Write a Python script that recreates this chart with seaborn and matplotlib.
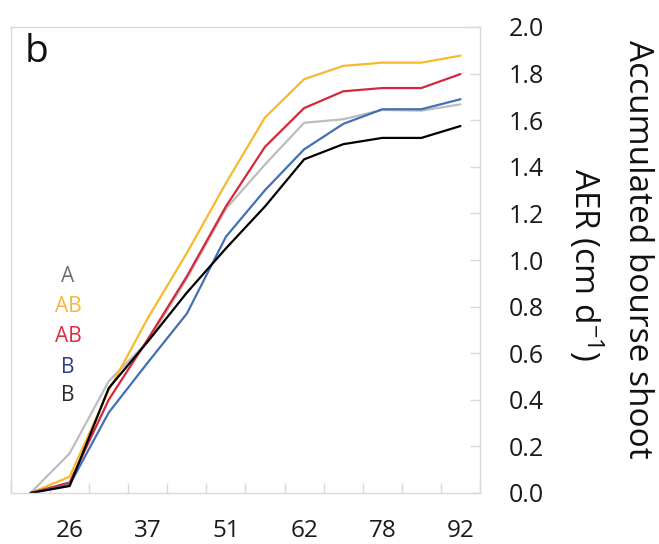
import numpy as np
import pandas as pd
import matplotlib
matplotlib.use("Agg")
import matplotlib.pyplot as plt
import seaborn as sns

# Sampling steps along the season and the day labels shown under the axis
steps = list(range(12))
day_labels = ["", "26", "", "37", "", "51", "", "62", "", "78", "", "92"]

# Accumulated bourse shoot AER (cm d-1) per treatment
t1 = [0.0, 0.17, 0.48, 0.65, 0.92, 1.22, 1.41, 1.589, 1.604, 1.644, 1.641, 1.668]
t2 = [0.0, 0.07, 0.44, 0.75, 1.03, 1.33, 1.612, 1.776, 1.833, 1.847, 1.847, 1.877]
t3 = [0.0, 0.045, 0.40, 0.66, 0.93, 1.23, 1.486, 1.652, 1.724, 1.738, 1.738, 1.798]
t4 = [0.0, 0.035, 0.345, 0.56, 0.77, 1.10, 1.30, 1.475, 1.584, 1.647, 1.647, 1.69]
t5 = [0.0, 0.03, 0.45, 0.65, 0.86, 1.05, 1.23, 1.432, 1.497, 1.524, 1.524, 1.575]

treatments = ["T1", "T2", "T3", "T4", "T5"]
series = [t1, t2, t3, t4, t5]
line_colors = ["#bdbdbd", "#f7b92e", "#d4283b", "#4170b8", "#000000"]

# Significance letters, listed top to bottom
sig_letters = ["A", "AB", "AB", "B", "B"]
letter_colors = ["#6e6e6e", "#f5b540", "#e0283e", "#2c3a92", "#2a2a2a"]

df = pd.DataFrame({
    "step": steps * len(treatments),
    "aer": np.concatenate(series),
    "treatment": np.repeat(treatments, len(steps)),
})

sns.set_style("white")
plt.rcParams["font.family"] = ["Open Sans", "DejaVu Sans"]
plt.rcParams["mathtext.default"] = "regular"

fig = plt.figure(figsize=(6.59, 5.44), dpi=100)
ax = fig.add_axes([11 / 659, 51 / 544, 469 / 659, 466 / 544])

sns.lineplot(data=df, x="step", y="aer", hue="treatment",
             palette=dict(zip(treatments, line_colors)),
             linewidth=1.6, legend=False, ax=ax, sort=False)

ax.set_xlim(-0.5, 11.5)
ax.set_ylim(0, 2.0)
ax.set_xlabel("")
ax.set_ylabel("")

frame_color = "#d9d9d9"
for sp in ax.spines.values():
    sp.set_color(frame_color)
    sp.set_linewidth(1.0)

# x axis: labels every other step, tick marks between categories
label_pos = [i for i, s in enumerate(day_labels) if s]
ax.set_xticks(label_pos)
ax.set_xticklabels([day_labels[i] for i in label_pos])
ax.set_xticks(np.arange(-0.5, 12, 1.0), minor=True)
ax.tick_params(axis="x", which="major", length=0, pad=19, labelsize=17.5,
               labelcolor="#1a1a1a")
ax.tick_params(axis="x", which="minor", direction="in", length=7,
               width=1.0, color=frame_color, bottom=True)

# y axis on the right
yt = np.round(np.arange(0, 2.01, 0.2), 1)
ax.yaxis.tick_right()
ax.set_yticks(yt)
ax.set_yticklabels([f"{v:.1f}" for v in yt])
ax.tick_params(axis="y", which="major", direction="in", length=7, width=1.0,
               color=frame_color, pad=21, labelsize=18, labelcolor="#1a1a1a",
               right=True, left=False)

# panel tag
ax.text(0.028, 0.925, "b", transform=ax.transAxes, fontsize=28,
        color="#111111", ha="left", va="baseline")

# significance letters
letter_y = [0.452, 0.388, 0.323, 0.258, 0.198]
for txt, col, yy in zip(sig_letters, letter_colors, letter_y):
    ax.text(0.1215, yy, txt, transform=ax.transAxes, fontsize=15,
            color=col, ha="center", va="baseline")

# two-line axis title on the right
fig.text(0.968, 0.542, "Accumulated bourse shoot", rotation=270,
         fontsize=24, ha="center", va="center", color="#111111")
fig.text(0.889, 0.513, "AER (cm d$^{-1}$)", rotation=270,
         fontsize=24, ha="center", va="center", color="#111111")

fig.savefig("out.png", dpi=100)
